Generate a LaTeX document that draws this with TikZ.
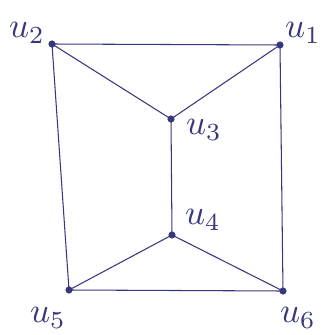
\documentclass[tikz,border=0pt]{standalone}
\usepackage{tikz}
\definecolor{ink}{RGB}{55,55,125}

\begin{document}
\begin{tikzpicture}[x=0.03cm, y=-0.03cm, baseline=(current bounding box.center)]
				\useasboundingbox (0,0) rectangle (323,335);
				\node[shape=coordinate] (u1) at (280, 45) {} node[scale=3, text=ink] (l1) at (303, 33) {$u_1$};
				\node[shape=coordinate] (u2) at ( 52, 44) {} node[scale=3, text=ink] (l2) at ( 27, 33) {$u_2$};
				\node[shape=coordinate] (u3) at (171,119) {} node[scale=3, text=ink] (l3) at (204,130) {$u_3$};
				\node[shape=coordinate] (u4) at (172,235) {} node[scale=3, text=ink] (l4) at (203,220) {$u_4$};
				\node[shape=coordinate] (u5) at ( 69,290) {} node[scale=3, text=ink] (l5) at ( 48,318) {$u_5$};
				\node[shape=coordinate] (u6) at (283,291) {} node[scale=3, text=ink] (l6) at (298,318) {$u_6$};
				\begin{scope}[ink, line width=0.9pt]
					\draw (u2) -- (u1) -- (u6) -- (u5) -- (u2);
					\draw (u2) -- (u3) -- (u1);
					\draw (u5) -- (u4) -- (u6);
					\draw (u3) -- (u4);
					\foreach \v in {u1,u2,u3,u4,u5,u6}
						\filldraw (\v) circle (3);
				\end{scope}
			\end{tikzpicture}
\end{document}
